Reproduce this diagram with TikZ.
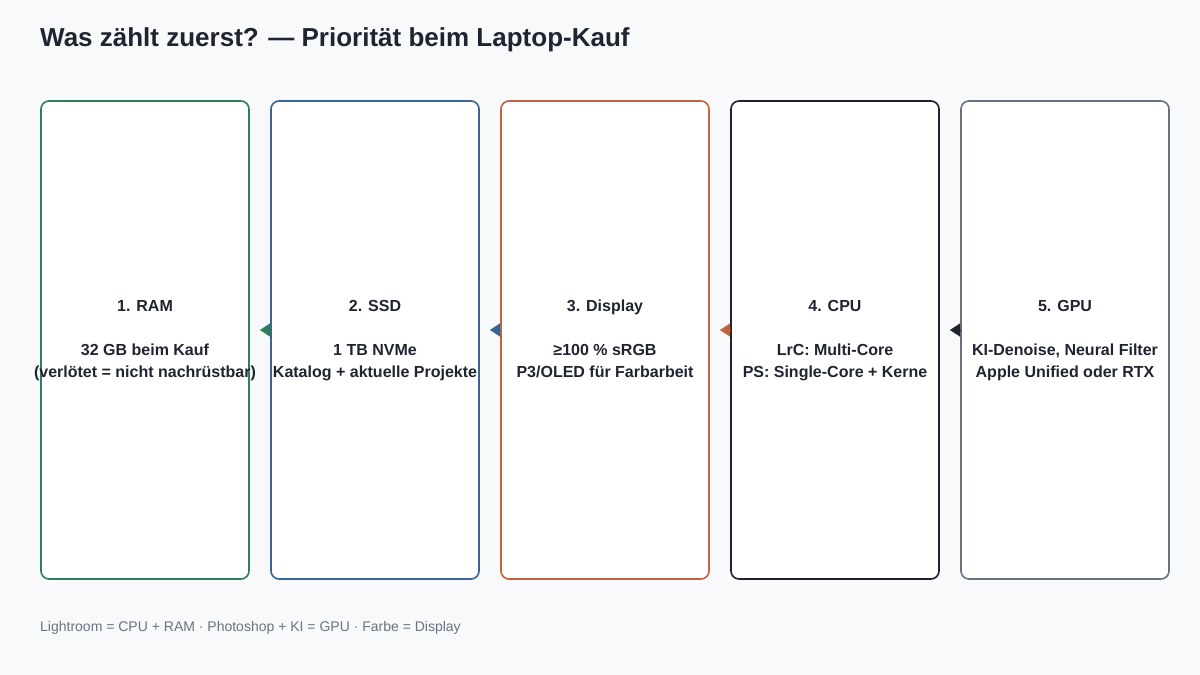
\documentclass[tikz,border=0pt]{standalone}
\usepackage{fontspec}
\setmainfont{Liberation Sans}
\usetikzlibrary{positioning,calc,arrows.meta}

\definecolor{bg}{HTML}{F7F9FB}
\definecolor{ink}{HTML}{1F2430}
\definecolor{muted}{HTML}{6B7280}
\definecolor{ramgreen}{HTML}{2F7D5B}
\definecolor{ssdblue}{HTML}{3B6496}
\definecolor{disporange}{HTML}{C4623F}
\definecolor{cpudark}{HTML}{1E222D}
\definecolor{gpugray}{HTML}{6B7080}

\begin{document}
\begin{tikzpicture}[x=1pt,y=-1pt,
	card/.style={draw=#1, line width=1.6pt, fill=white, rounded corners=8pt, outer sep=0pt,
		minimum width=208pt, minimum height=478pt, inner sep=0pt},
	cardtext/.style={anchor=north, inner sep=0pt, align=center,
		text=ink, font=\fontsize{16}{22}\selectfont\bfseries,
		execute at begin node={\vphantom{l}}},
	arr/.style={-{Triangle[length=10pt,width=13pt]}, line width=0.1pt}]
	\fill[bg] (0,0) rectangle (1200,675);	%background
	\useasboundingbox (0,0) rectangle (1200,675);

	%title
	\node[anchor=west, inner sep=0pt, text=ink, font=\fontsize{26}{30}\selectfont\bfseries] (title) at (40,40)
		{Was zählt zuerst? — Priorität beim Laptop-Kauf};

	%the five cards, left to right
	\node[card=ramgreen] (ram) at (145,340) {};
	\node[card=ssdblue, right=22pt of ram] (ssd) {};
	\node[card=disporange, right=22pt of ssd] (disp) {};
	\node[card=cpudark, right=22pt of disp] (cpu) {};
	\node[card=gpugray, right=22pt of cpu] (gpu) {};

	%card texts, top line at the same height in every card
	\node[cardtext] (ramtxt) at ([yshift=40pt]ram.center)
		{1. RAM\\[22pt]32 GB beim Kauf\\(verlötet = nicht nachrüstbar)};
	\node[cardtext] (ssdtxt) at ([yshift=40pt]ssd.center)
		{2. SSD\\[22pt]1 TB NVMe\\Katalog + aktuelle Projekte};
	\node[cardtext] (disptxt) at ([yshift=40pt]disp.center)
		{3. Display\\[22pt]\smash{≥}100 \% sRGB\\P3/OLED für Farbarbeit};
	\node[cardtext] (cputxt) at ([yshift=40pt]cpu.center)
		{4. CPU\\[22pt]LrC: Multi-Core\\PS: Single-Core + Kerne};
	\node[cardtext] (gputxt) at ([yshift=40pt]gpu.center)
		{5. GPU\\[22pt]KI-Denoise, Neural Filter\\Apple Unified oder RTX};

	%arrow tips in the gaps
	\coordinate (tip1) at ($(ram.east)!0.5!(ssd.west)+(0,-10)$);
	\coordinate (tip2) at ($(ssd.east)!0.5!(disp.west)+(0,-10)$);
	\coordinate (tip3) at ($(disp.east)!0.5!(cpu.west)+(0,-10)$);
	\coordinate (tip4) at ($(cpu.east)!0.5!(gpu.west)+(0,-10)$);
	\draw[arr, ramgreen]   ([yshift=10pt]ssd.west)  -- (tip1);
	\draw[arr, ssdblue]    ([yshift=10pt]disp.west) -- (tip2);
	\draw[arr, disporange] ([yshift=10pt]cpu.west)  -- (tip3);
	\draw[arr, cpudark]    ([yshift=10pt]gpu.west)  -- (tip4);

	%footer
	\node[anchor=west, inner sep=0pt, text=muted, font=\fontsize{14}{17}\selectfont] (note) at (40,628)
		{Lightroom = CPU + RAM · Photoshop + KI = GPU · Farbe = Display};
\end{tikzpicture}
\end{document}
